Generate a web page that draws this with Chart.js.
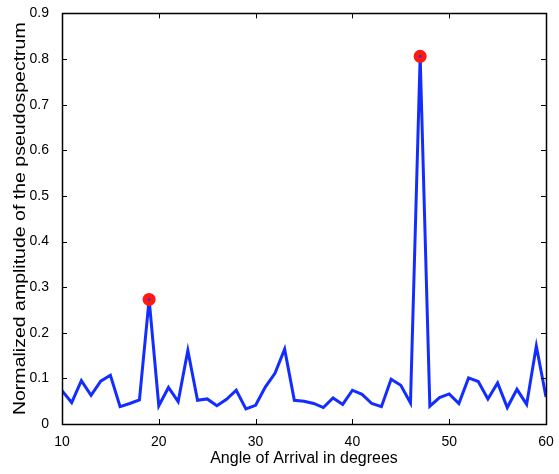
<!DOCTYPE html>
<html>
<head>
<meta charset="utf-8">
<script src="https://cdn.jsdelivr.net/npm/chart.js@4/dist/chart.umd.min.js"></script>
<style>
  html, body { margin: 0; padding: 0; background: #fff; }
  #wrap { width: 559px; height: 474px; }
</style>
</head>
<body>
<div id="wrap"><canvas id="myChart" width="559" height="474"></canvas></div>
<script>
const angles = [10, 11, 12, 13, 14, 15, 16, 17, 18, 19, 20, 21, 22, 23, 24, 25, 26, 27, 28, 29,
                30, 31, 32, 33, 34, 35, 36, 37, 38, 39, 40, 41, 42, 43, 44, 45, 46, 47, 48, 49,
                50, 51, 52, 53, 54, 55, 56, 57, 58, 59, 60]
const amplitude = [0.073, 0.047, 0.095, 0.063, 0.094, 0.107, 0.038, 0.045, 0.053, 0.273,
                   0.040, 0.080, 0.049, 0.161, 0.052, 0.055, 0.040, 0.054, 0.074, 0.033,
                   0.041, 0.081, 0.111, 0.164, 0.052, 0.050, 0.045, 0.036, 0.057, 0.043,
                   0.074, 0.065, 0.045, 0.038, 0.098, 0.085, 0.046, 0.806, 0.039, 0.058,
                   0.066, 0.045, 0.101, 0.093, 0.055, 0.090, 0.036, 0.076, 0.043, 0.171,
                   0.059]
const peakAngles = [19, 47]
const peakValues = [0.273, 0.806]
const xTicks = [10, 20, 30, 40, 50, 60]
const yTicks = [0, 0.1, 0.2, 0.3, 0.4, 0.5, 0.6, 0.7, 0.8, 0.9]
const yTickLabels = ['0', '0.1', '0.2', '0.3', '0.4', '0.5', '0.6', '0.7', '0.8', '0.9']
const yTitle = 'Normalized amplitude of the pseudospectrum'

const font = 'Liberation Sans, Arial, Helvetica, sans-serif'

// box round the plot with matlab style inward ticks, plus the stretched y title
const boxPlugin = {
    id: 'box',
    afterDatasetsDraw(chart) {
        const { ctx, chartArea: a, scales } = chart
        ctx.save()
        ctx.strokeStyle = '#000'
        ctx.lineWidth = 1
        ctx.beginPath()
        xTicks.forEach(v => {
            const x = Math.round(scales.x.getPixelForValue(v)) + 0.5
            ctx.moveTo(x, a.bottom); ctx.lineTo(x, a.bottom - 5)
            ctx.moveTo(x, a.top); ctx.lineTo(x, a.top + 5)
        })
        yTicks.forEach(v => {
            const y = Math.round(scales.y.getPixelForValue(v)) + 0.5
            ctx.moveTo(a.left, y); ctx.lineTo(a.left + 5, y)
            ctx.moveTo(a.right, y); ctx.lineTo(a.right - 5, y)
        })
        ctx.stroke()
        ctx.lineWidth = 1.5
        ctx.strokeRect(Math.round(a.left) + 0.5, Math.round(a.top) + 0.5,
                       Math.round(a.right - a.left), Math.round(a.bottom - a.top))

        ctx.translate(21, (a.top + a.bottom) / 2)
        ctx.rotate(-Math.PI / 2)
        ctx.scale(1.22, 1)
        ctx.fillStyle = '#000'
        ctx.font = '16px ' + font
        ctx.textAlign = 'center'
        ctx.textBaseline = 'middle'
        ctx.fillText(yTitle, 0, 0)
        ctx.restore()
    }
}

const line = angles.map((a, i) => ({ x: a, y: amplitude[i] }))
const peaks = peakAngles.map((a, i) => ({ x: a, y: peakValues[i] }))

const chart = new Chart(document.querySelector('#myChart'), {
    type: 'line',
    data: {
        datasets: [{
            data: peaks,
            showLine: false,
            pointRadius: 1.3,
            pointBackgroundColor: 'rgb(30,50,255)',
            pointBorderWidth: 0,
            order: 0
        }, {
            data: peaks,
            showLine: false,
            pointRadius: 6.5,
            pointBackgroundColor: 'rgb(255,25,15)',
            pointBorderWidth: 0,
            order: 1
        }, {
            data: line,
            borderColor: 'rgb(20,45,255)',
            borderWidth: 3,
            pointRadius: 0,
            tension: 0,
            order: 2
        }]
    },
    options: {
        responsive: false,
        animation: false,
        layout: { padding: { top: 8, right: 13, left: 0, bottom: 0 } },
        plugins: { legend: { display: false }, tooltip: { enabled: false } },
        scales: {
            x: {
                type: 'linear',
                min: 10, max: 60,
                afterBuildTicks: s => { s.ticks = xTicks.map(v => ({ value: v })) },
                afterFit: s => { s.height = 50 },
                grid: { display: false },
                border: { display: false },
                ticks: { color: '#000', font: { family: font, size: 14 }, padding: 2, maxRotation: 0 },
                title: { display: true, text: 'Angle of Arrival in degrees', color: '#000',
                         font: { family: font, size: 16 }, padding: { top: 0, bottom: 6 } }
            },
            y: {
                min: 0, max: 0.9,
                afterBuildTicks: s => { s.ticks = yTicks.map(v => ({ value: v })) },
                afterFit: s => { s.width = 62 },
                grid: { display: false },
                border: { display: false },
                ticks: { color: '#000', font: { family: font, size: 14 }, padding: 5,
                         callback: (v, i) => yTickLabels[i] },
                title: { display: false }
            }
        }
    },
    plugins: [boxPlugin]
})
</script>
</body>
</html>
